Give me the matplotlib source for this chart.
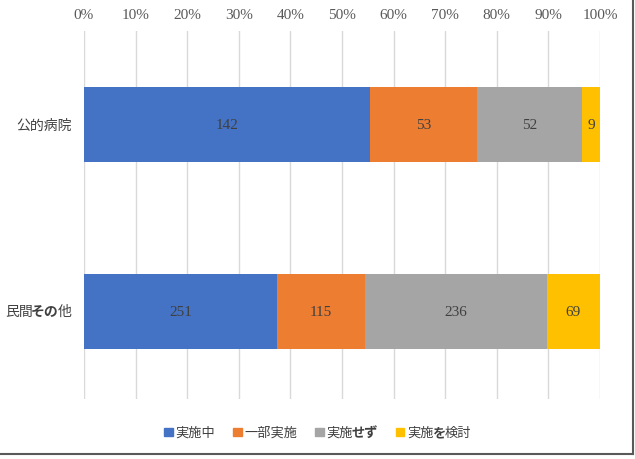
import matplotlib.pyplot as plt
from matplotlib.patches import Rectangle
from matplotlib.lines import Line2D
from matplotlib.offsetbox import TextArea, HPacker, DrawingArea, AnchoredOffsetbox, AnnotationBbox

categories = ['公的病院', '民間その他']
series_names = ['実施中', '一部実施', '実施せず', '実施を検討']
jisshichu = [142, 251]
ichibu = [53, 115]
sezu = [52, 236]
kento = [9, 69]
colors = ['#4472C4', '#ED7D31', '#A5A5A5', '#FFC000']
pct_ticks = [0, 10, 20, 30, 40, 50, 60, 70, 80, 90, 100]

JP = 'Noto Sans CJK JP'
SERIF = 'Liberation Serif'


def rich(text, size):
    # hiragana drawn bold like in the source chart
    runs = []
    for ch in text:
        b = '\u3040' <= ch <= '\u309f'
        if runs and runs[-1][1] == b:
            runs[-1][0] += ch
        else:
            runs.append([ch, b])
    parts = [TextArea(t, textprops=dict(family=JP, size=size, color='#404040',
                                        weight='bold' if b else 'normal'))
             for t, b in runs]
    return HPacker(children=parts, pad=0, sep=-1, align='baseline')


fig = plt.figure(figsize=(6.35, 4.6), dpi=100)
ax = fig.add_axes([84 / 635, 1 - 400 / 460, 516 / 635, 368 / 460])

series = [jisshichu, ichibu, sezu, kento]
totals = [sum(s[i] for s in series) for i in range(len(categories))]
left = [0.0] * len(categories)
for vals, col in zip(series, colors):
    widths = [v / t * 100 for v, t in zip(vals, totals)]
    bars = ax.barh(range(len(categories)), widths, left=left, height=0.4,
                   color=col, zorder=3)
    for b, v in zip(bars, vals):
        ax.text(b.get_x() + b.get_width() / 2, b.get_y() + b.get_height() / 2, str(v),
                ha='center', va='center', family=SERIF, size=11, color='#404040', zorder=4)
    left = [l + w for l, w in zip(left, widths)]

ax.set_xlim(0, 100)
ax.set_ylim(1.47, -0.5)
ax.set_xticks(pct_ticks)
ax.set_xticklabels([f'{p}%' for p in pct_ticks], family=SERIF, size=11, color='#595959')
ax.xaxis.tick_top()
ax.tick_params(axis='x', length=0, pad=7)
ax.set_yticks([])
ax.grid(axis='x', color='#D9D9D9', linewidth=1, zorder=0)
for s in ax.spines.values():
    s.set_visible(False)

for i, cat in enumerate(categories):
    ab = AnnotationBbox(rich(cat, 10), (0, i), xybox=(-9, 0), xycoords='data',
                        boxcoords='offset points', frameon=False, box_alignment=(1, 0.5))
    ax.add_artist(ab)

items = []
for name, col in zip(series_names, colors):
    da = DrawingArea(6, 6, 0, 0)
    da.add_artist(Rectangle((0, 0), 6, 6, color=col))
    items.append(HPacker(children=[da, rich(name, 9.5)], pad=0, sep=2, align='center'))
legend = AnchoredOffsetbox(loc='center', child=HPacker(children=items, pad=0, sep=13, align='center'),
                           bbox_to_anchor=(0.5, 1 - 433 / 460), bbox_transform=fig.transFigure,
                           frameon=False, pad=0, borderpad=0)
fig.add_artist(legend)

fig.add_artist(Line2D([0, 0.997], [0.011, 0.011], transform=fig.transFigure, color='#595959', lw=1.5))
fig.add_artist(Line2D([0.997, 0.997], [0.011, 1], transform=fig.transFigure, color='#595959', lw=1.5))

fig.savefig('out.png', dpi=100)
